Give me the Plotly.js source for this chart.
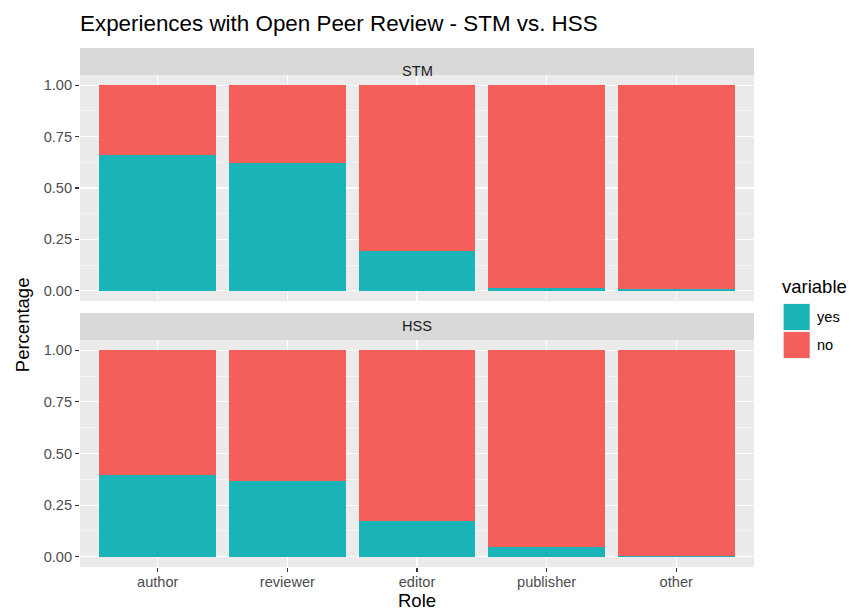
<!DOCTYPE html>
<html>
<head>
<meta charset="utf-8">
<script src="https://cdn.plot.ly/plotly-3.0.1.min.js"></script>
<style>html,body{margin:0;padding:0;background:#fff;}#chart{width:851px;height:612px;}</style>
</head>
<body>
<div id="chart"></div>
<script>
const roles = ['author', 'reviewer', 'editor', 'publisher', 'other'];
const stmYes = [0.662, 0.621, 0.195, 0.015, 0.010];
const stmNo  = [0.338, 0.379, 0.805, 0.985, 0.990];
const hssYes = [0.395, 0.367, 0.175, 0.049, 0.004];
const hssNo  = [0.605, 0.633, 0.825, 0.951, 0.996];
const panels = ['STM', 'HSS'];
const variables = ['yes', 'no'];
const yTicks = [0, 0.25, 0.5, 0.75, 1];

const colYes = '#19B3B8', colNo = '#F45F5C';

function bar(y, name, color, xa, ya) {
  return {type: 'bar', x: roles, y: y, name: name, width: 0.9,
    marker: {color: color, line: {width: 0}}, xaxis: xa, yaxis: ya,
    showlegend: false, hoverinfo: 'x+y+name'};
}
const data = [
  bar(stmYes, variables[0], colYes, 'x2', 'y'),
  bar(stmNo, variables[1], colNo, 'x2', 'y'),
  bar(hssYes, variables[0], colYes, 'x', 'y2'),
  bar(hssNo, variables[1], colNo, 'x', 'y2')
];

const font = 'Liberation Sans, Arial, Helvetica, sans-serif';
const small = 14.6, base = 18.5, big = 22.4;
const yAx = (domain) => ({
  domain: domain, range: [-0.05, 1.05], tickvals: yTicks, tickformat: '.2f',
  showgrid: true, gridcolor: '#FFFFFF', gridwidth: 1.1, zeroline: false,
  minor: {dtick: 0.125, tick0: 0, showgrid: true, gridcolor: '#FFFFFF', gridwidth: 0.5, ticks: ''},
  ticks: 'outside', ticklen: 4, tickwidth: 1.1, tickcolor: '#333333',
  tickfont: {family: font, size: small, color: '#4D4D4D'}, showline: false, fixedrange: true
});
const xAx = (anchor, labels) => ({
  anchor: anchor, type: 'category', range: [-0.6, 4.6],
  showgrid: true, gridcolor: '#FFFFFF', gridwidth: 1.1, zeroline: false,
  ticks: labels ? 'outside' : '', ticklen: 4, tickwidth: 1.1, tickcolor: '#333333',
  ticklabelstandoff: -3,
  showticklabels: labels, tickfont: {family: font, size: small, color: '#4D4D4D'}, fixedrange: true
});

const topDom = [0.5125, 0.948];
const botDom = [0, 0.4374];
const stripH = 0.052;

const layout = {
  width: 851, height: 612,
  margin: {l: 80, r: 97, t: 48, b: 45},
  paper_bgcolor: '#FFFFFF', plot_bgcolor: '#EBEBEB',
  barmode: 'stack', bargap: 0.1,
  font: {family: font, color: '#000'},
  title: {text: 'Experiences with Open Peer Review - STM vs. HSS', xref: 'paper', x: 0, xanchor: 'left',
    yref: 'container', y: 0.962, yanchor: 'middle', font: {family: font, size: big, color: '#000'}},
  xaxis: xAx('y2', true),
  xaxis2: Object.assign(xAx('y', false), {matches: 'x'}),
  yaxis: yAx(topDom),
  yaxis2: yAx(botDom),
  showlegend: false,
  shapes: [
    {type: 'rect', xref: 'paper', yref: 'paper', x0: 0, x1: 1, y0: topDom[1], y1: topDom[1] + stripH, fillcolor: '#D9D9D9', line: {width: 0}},
    {type: 'rect', xref: 'paper', yref: 'paper', x0: 0, x1: 1, y0: botDom[1], y1: botDom[1] + stripH, fillcolor: '#D9D9D9', line: {width: 0}},
    {type: 'rect', xref: 'paper', yref: 'paper', x0: 1.0426, x1: 1.0841, y0: 0.4547, y1: 0.5087, fillcolor: '#F2F2F2', line: {width: 0}},
    {type: 'rect', xref: 'paper', yref: 'paper', x0: 1.0441, x1: 1.0826, y0: 0.4566, y1: 0.5068, fillcolor: colYes, line: {width: 0}},
    {type: 'rect', xref: 'paper', yref: 'paper', x0: 1.0426, x1: 1.0841, y0: 0.4008, y1: 0.4547, fillcolor: '#F2F2F2', line: {width: 0}},
    {type: 'rect', xref: 'paper', yref: 'paper', x0: 1.0441, x1: 1.0826, y0: 0.4027, y1: 0.4528, fillcolor: colNo, line: {width: 0}}
  ],
  annotations: [
    {text: panels[0], xref: 'paper', yref: 'paper', x: 0.5, y: topDom[1] + stripH / 2, showarrow: false, font: {family: font, size: small, color: '#1A1A1A'}},
    {text: panels[1], xref: 'paper', yref: 'paper', x: 0.5, y: botDom[1] + stripH / 2, showarrow: false, font: {family: font, size: small, color: '#1A1A1A'}},
    {text: 'Role', xref: 'paper', yref: 'paper', x: 0.5, y: -0.0636, showarrow: false, xanchor: 'center', yanchor: 'middle', font: {family: font, size: base, color: '#000'}},
    {text: 'Percentage', xref: 'paper', yref: 'paper', x: -0.086, y: 0.466, textangle: -90, showarrow: false, xanchor: 'center', yanchor: 'middle', font: {family: font, size: base, color: '#000'}},
    {text: 'variable', xref: 'paper', yref: 'paper', x: 1.039, y: 0.5395, xanchor: 'left', yanchor: 'middle', showarrow: false, font: {family: font, size: base, color: '#000'}},
    {text: variables[0], xref: 'paper', yref: 'paper', x: 1.0905, y: 0.4817, xanchor: 'left', yanchor: 'middle', showarrow: false, font: {family: font, size: small, color: '#000'}},
    {text: variables[1], xref: 'paper', yref: 'paper', x: 1.0905, y: 0.4277, xanchor: 'left', yanchor: 'middle', showarrow: false, font: {family: font, size: small, color: '#000'}}
  ]
};

Plotly.newPlot('chart', data, layout, {displayModeBar: false, staticPlot: true});
</script>
</body>
</html>
